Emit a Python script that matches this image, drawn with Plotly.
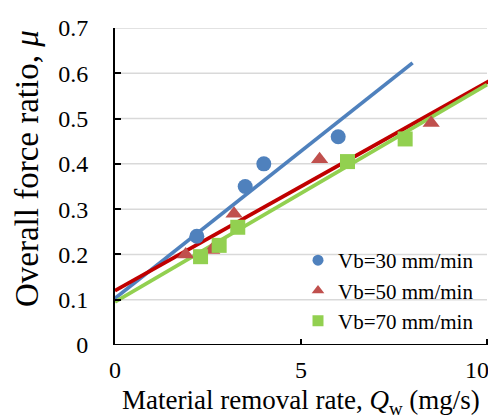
import numpy as np
import plotly.graph_objects as go

# ---- data ----
series_names = ["Vb=30 mm/min", "Vb=50 mm/min", "Vb=70 mm/min"]
x_vb30 = [2.2, 3.5, 4.0, 6.0]
y_vb30 = [0.24, 0.35, 0.40, 0.46]
x_vb50 = [1.9, 2.6, 3.2, 5.5, 8.5]
y_vb50 = [0.20, 0.21, 0.29, 0.41, 0.49]
x_vb70 = [2.3, 2.8, 3.3, 6.25, 7.8]
y_vb70 = [0.195, 0.22, 0.26, 0.405, 0.455]
# linear trendlines (intercept, slope, x end)
trend_intercept = [0.103, 0.120, 0.095]
trend_slope = [0.065, 0.046, 0.048]
trend_xend = [8.0, 10.5, 10.0]
x_ticks = [0, 5, 10]
x_tick_labels = ["0", "5", "10"]
y_ticks = [0, 0.1, 0.2, 0.3, 0.4, 0.5, 0.6, 0.7]
y_tick_labels = ["0", "0.1", "0.2", "0.3", "0.4", "0.5", "0.6", "0.7"]

marker_colors = ["#4F81BD", "#C0504D", "#92D050"]
line_colors = ["#4F81BD", "#C00000", "#92D050"]
symbols = ["circle", "triangle-up", "square"]
xs = [x_vb30, x_vb50, x_vb70]
ys = [y_vb30, y_vb50, y_vb70]

FONT = "Liberation Serif, Times New Roman, serif"
W, H = 496, 419
ML, MR, MT, MB = 107, 0, 20, 82
XMAX_AXIS = 10
px_per_unit = (479 - ML) / XMAX_AXIS
xrange_max = (W - ML - MR) / px_per_unit
plot_h = H - MT - MB

fig = go.Figure()

# gridlines (stop at x=10)
for yv in y_ticks[1:]:
    fig.add_shape(type="line", xref="x", yref="y", x0=0, x1=XMAX_AXIS, y0=yv, y1=yv,
                  line=dict(color="#D9D9D9", width=1.5), layer="below")

# trendlines
for i in range(3):
    tx = np.array([0.0, trend_xend[i]])
    ty = trend_intercept[i] + trend_slope[i] * tx
    fig.add_trace(go.Scatter(x=tx, y=ty, mode="lines", showlegend=False,
                             line=dict(color=line_colors[i], width=3.8),
                             hoverinfo="skip"))

# data markers
for i in range(3):
    fig.add_trace(go.Scatter(x=xs[i], y=ys[i], mode="markers", showlegend=False,
                             marker=dict(color=marker_colors[i], symbol=symbols[i],
                                         size=15, line=dict(width=0))))

# legend-only entries with smaller symbols
for i in range(3):
    fig.add_trace(go.Scatter(x=[None], y=[None], mode="markers", name=series_names[i],
                             marker=dict(color=marker_colors[i], symbol=symbols[i],
                                         size=11, line=dict(width=0))))

# x axis line (0..10)
fig.add_shape(type="line", xref="x", yref="y", x0=0, x1=XMAX_AXIS, y0=0, y1=0,
              line=dict(color="black", width=2), layer="above")

annotations = []
# x tick labels
for v, lab in zip(x_ticks, x_tick_labels):
    annotations.append(dict(x=v, xref="x", y=0, yref="paper", text=lab, showarrow=False,
                            xanchor="center", yanchor="middle", yshift=-25,
                            xshift=(-10 if v == XMAX_AXIS else 0),
                            font=dict(size=24, family=FONT, color="black")))
# x title
annotations.append(dict(x=XMAX_AXIS / 2, xref="x", y=0, yref="paper",
                        text="Material removal rate, <i>Q</i><sub>w</sub> (mg/s)",
                        showarrow=False, xanchor="center", yanchor="middle", yshift=-57,
                        font=dict(size=27, family=FONT, color="black")))
# y title
annotations.append(dict(x=0, xref="paper", xshift=-(ML - 19), y=(337 - 161) / plot_h, yref="paper",
                        text="Overall force ratio, <i>μ</i>", textangle=-90,
                        showarrow=False, xanchor="center", yanchor="middle",
                        font=dict(size=33, family=FONT, color="black")))

fig.update_layout(
    width=W, height=H,
    margin=dict(l=ML, r=MR, t=MT, b=MB),
    paper_bgcolor="white", plot_bgcolor="white",
    font=dict(family=FONT, color="black", size=24),
    showlegend=True,
    legend=dict(x=(290 - ML) / (W - ML - MR), xanchor="left", y=(337 - 232) / plot_h, yanchor="top",
                bgcolor="rgba(0,0,0,0)", font=dict(size=21, family=FONT),
                itemwidth=30, tracegroupgap=0),
    annotations=annotations,
    xaxis=dict(range=[0, xrange_max], tickvals=x_ticks, showticklabels=False,
               showgrid=False, zeroline=False, showline=False,
               ticks="inside", ticklen=6, tickwidth=1.5, tickcolor="black"),
    yaxis=dict(range=[0, 0.7], tickvals=y_ticks, ticktext=y_tick_labels,
               showgrid=False, zeroline=False, showline=True, linecolor="black", linewidth=2,
               ticks="inside", ticklen=6, tickwidth=1.5, tickcolor="black",
               ticklabelstandoff=20,
               tickfont=dict(size=24, family=FONT)),
)

fig.write_html("out.html")
